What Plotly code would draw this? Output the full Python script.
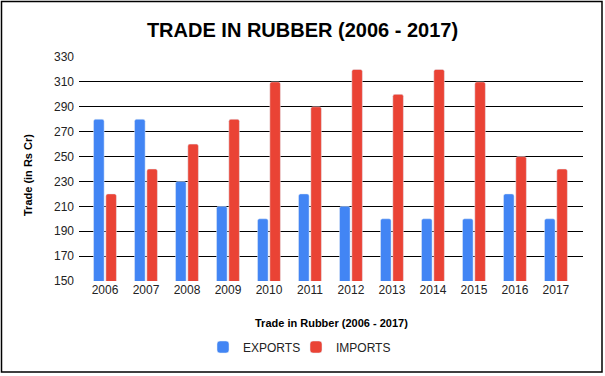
import plotly.graph_objects as go

years = ["2006", "2007", "2008", "2009", "2010", "2011", "2012", "2013", "2014", "2015", "2016", "2017"]
exports = [280, 280, 230, 210, 200, 220, 210, 200, 200, 200, 220, 200]
imports = [220, 240, 260, 280, 310, 290, 320, 300, 320, 310, 250, 240]

W, H = 605, 376
L, R, T, B = 79, 583, 57, 281

def px(x):
    return (x - L) / (R - L)

def py(y):
    return (B - y) / (B - T)

fig = go.Figure()
fig.add_trace(go.Bar(x=years, y=exports, name="EXPORTS", marker_color="#4285F4", legend="legend"))
fig.add_trace(go.Bar(x=years, y=imports, name="IMPORTS", marker_color="#EA4335", legend="legend2"))

font = "Liberation Sans, Arial, sans-serif"
leg = dict(orientation="h", y=py(347), yanchor="middle", xanchor="left",
           font=dict(size=12, color="#222222"), itemwidth=30, bgcolor="rgba(0,0,0,0)")
fig.update_layout(
    width=W, height=H,
    margin=dict(l=L, r=W - R, t=T, b=H - B, autoexpand=False),
    paper_bgcolor="white", plot_bgcolor="white",
    barmode="group", bargap=0.4, bargroupgap=0.14, barcornerradius=2,
    font=dict(family=font, size=12, color="#222222"),
    title=dict(text="<b>TRADE IN RUBBER (2006 - 2017)</b>", x=0.5, xanchor="center",
               y=1 - 30 / H, yanchor="middle", font=dict(size=20, color="#000000")),
    showlegend=True,
    legend=dict(leg, x=px(217 - 14)),
    legend2=dict(leg, x=px(310 - 14)),
    xaxis=dict(showgrid=False, ticks="", tickfont=dict(size=12, color="#222222"), showline=False,
               range=[-0.634, 11.66]),
    yaxis=dict(range=[150, 330], dtick=20, tick0=150, showgrid=True, gridcolor="#000000", gridwidth=1,
               zeroline=False, ticks="", tickfont=dict(size=12, color="#222222"), ticklabelstandoff=4),
    annotations=[
        dict(text="<b>Trade in Rubber (2006 - 2017)</b>", xref="paper", yref="paper", x=px(331), y=py(323),
             showarrow=False, font=dict(size=11, color="#000000"), xanchor="center", yanchor="middle"),
        dict(text="<b>Trade (in Rs Cr)</b>", xref="paper", yref="paper", x=px(28), y=py(175),
             showarrow=False, font=dict(size=11, color="#000000"), textangle=-90, xanchor="center", yanchor="middle"),
    ],
    shapes=[
        dict(type="rect", xref="paper", yref="paper", x0=px(1.5), x1=px(602), y0=py(372), y1=py(1.5),
             line=dict(color="#000000", width=1.5), layer="below"),
    ],
)

fig.write_html("out.html", config={"displayModeBar": False},
               post_script="document.body.style.margin='0';document.body.style.overflow='hidden';")
